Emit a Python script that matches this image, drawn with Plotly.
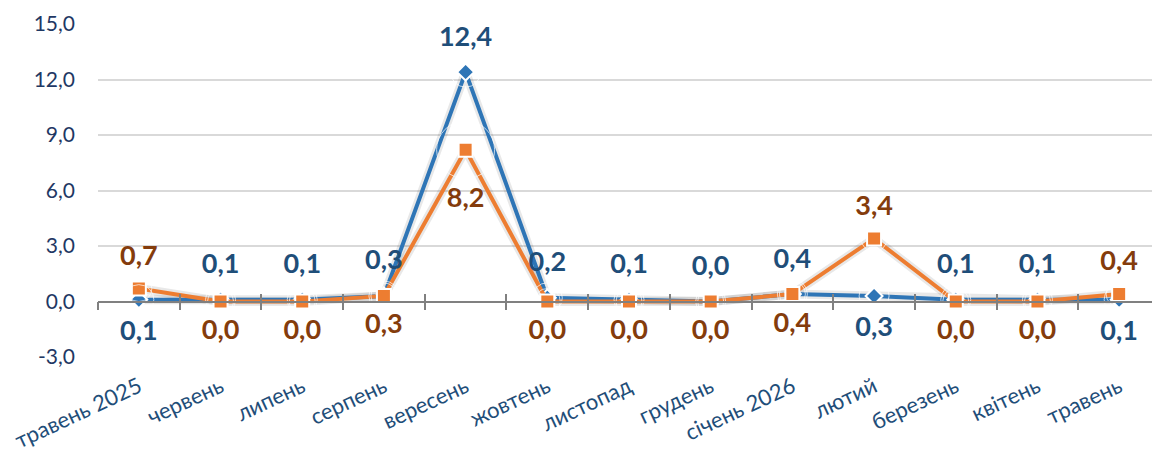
import plotly.graph_objects as go

months = ["травень 2025", "червень", "липень", "серпень", "вересень", "жовтень",
          "листопад", "грудень", "січень 2026", "лютий", "березень", "квітень", "травень"]
blue_vals = [0.1, 0.1, 0.1, 0.3, 12.4, 0.2, 0.1, 0.0, 0.4, 0.3, 0.1, 0.1, 0.1]
orange_vals = [0.7, 0.0, 0.0, 0.3, 8.2, 0.0, 0.0, 0.0, 0.4, 3.4, 0.0, 0.0, 0.4]
blue_pos = ["bottom center", "top center", "top center", "top center", "top center", "top center",
            "top center", "top center", "top center", "bottom center", "top center", "top center",
            "bottom center"]
orange_pos = ["top center", "bottom center", "bottom center", "bottom center", "bottom center",
              "bottom center", "bottom center", "bottom center", "bottom center", "top center",
              "bottom center", "bottom center", "top center"]
y_ticks = [-3, 0, 3, 6, 9, 12, 15]
y_tick_text = ["-3,0", "0,0", "3,0", "6,0", "9,0", "12,0", "15,0"]

def fmt(v):
    return f"{v:.1f}".replace(".", ",")

FONT = "Lato"
BLUE = "#2E75B6"
ORANGE = "#ED7D31"
x_idx = list(range(len(months)))

# invisible spacer sizes that push the data labels away from the markers
blue_pad = [30] * len(months)
orange_pad = [26] * len(months)
orange_pad[4] = 58

fig = go.Figure()
# soft shadows
for vals in (blue_vals, orange_vals):
    fig.add_trace(go.Scatter(x=x_idx, y=vals, mode="lines",
                             line=dict(color="rgba(0,0,0,0.09)", width=9),
                             hoverinfo="skip", showlegend=False))
fig.add_trace(go.Scatter(
    x=x_idx, y=blue_vals, mode="lines+markers",
    line=dict(color=BLUE, width=4),
    marker=dict(symbol="diamond", size=13, color=BLUE, line=dict(color="white", width=2)),
    showlegend=False, cliponaxis=False))
fig.add_trace(go.Scatter(
    x=x_idx, y=orange_vals, mode="lines+markers",
    line=dict(color=ORANGE, width=4),
    marker=dict(symbol="square", size=14, color=ORANGE, line=dict(color="white", width=2)),
    showlegend=False, cliponaxis=False))
# data labels
fig.add_trace(go.Scatter(
    x=x_idx, y=blue_vals, mode="markers+text",
    marker=dict(size=blue_pad, color="rgba(0,0,0,0)"),
    text=[fmt(v) for v in blue_vals], textposition=blue_pos,
    textfont=dict(family=FONT, size=27, color="#1F4E79", weight="bold"),
    showlegend=False, cliponaxis=False, hoverinfo="skip"))
fig.add_trace(go.Scatter(
    x=x_idx, y=orange_vals, mode="markers+text",
    marker=dict(size=orange_pad, color="rgba(0,0,0,0)"),
    text=[fmt(v) for v in orange_vals], textposition=orange_pos,
    textfont=dict(family=FONT, size=27, color="#843C0C", weight="bold"),
    showlegend=False, cliponaxis=False, hoverinfo="skip"))
# dummy traces for tick-mark axes on the zero line
fig.add_trace(go.Scatter(x=[], y=[], xaxis="x2", yaxis="y", showlegend=False, hoverinfo="skip"))
fig.add_trace(go.Scatter(x=[], y=[], xaxis="x3", yaxis="y", showlegend=False, hoverinfo="skip"))

ymin, ymax = -3, 15
zero_pos = (0 - ymin) / (ymax - ymin)
boundaries = [i - 0.5 for i in range(len(months) + 1)]

fig.update_layout(
    width=1152, height=445,
    margin=dict(l=90, r=0, t=16, b=96),
    paper_bgcolor="white", plot_bgcolor="white",
    font=dict(family=FONT),
    xaxis=dict(range=[-0.5, len(months) - 0.5], tickmode="array", tickvals=x_idx,
               ticktext=months, tickangle=-25, showgrid=False, showline=False, ticks="",
               zeroline=False, ticklabelstandoff=12,
               tickfont=dict(family=FONT, size=22, color="#1F4E79")),
    xaxis2=dict(overlaying="x", anchor="free", position=zero_pos, side="bottom",
                range=[-0.5, len(months) - 0.5], tickmode="array", tickvals=boundaries,
                showticklabels=False, ticks="outside", ticklen=8, tickwidth=1.5,
                tickcolor="#808080", showline=True, linecolor="#808080", linewidth=1.5,
                showgrid=False, zeroline=False),
    xaxis3=dict(overlaying="x", anchor="free", position=zero_pos, side="bottom",
                range=[-0.5, len(months) - 0.5], tickmode="array", tickvals=boundaries,
                showticklabels=False, ticks="inside", ticklen=8, tickwidth=1.5,
                tickcolor="#808080", showline=False, showgrid=False, zeroline=False),
    yaxis=dict(range=[ymin, ymax], tickmode="array", tickvals=y_ticks, ticktext=y_tick_text,
               showgrid=True, gridcolor="#D9D9D9", gridwidth=1.5, zeroline=False,
               showline=False, ticks="", ticklabelstandoff=22,
               tickfont=dict(family=FONT, size=21, color="#1F3864")),
)

fig.write_html("out.html")
